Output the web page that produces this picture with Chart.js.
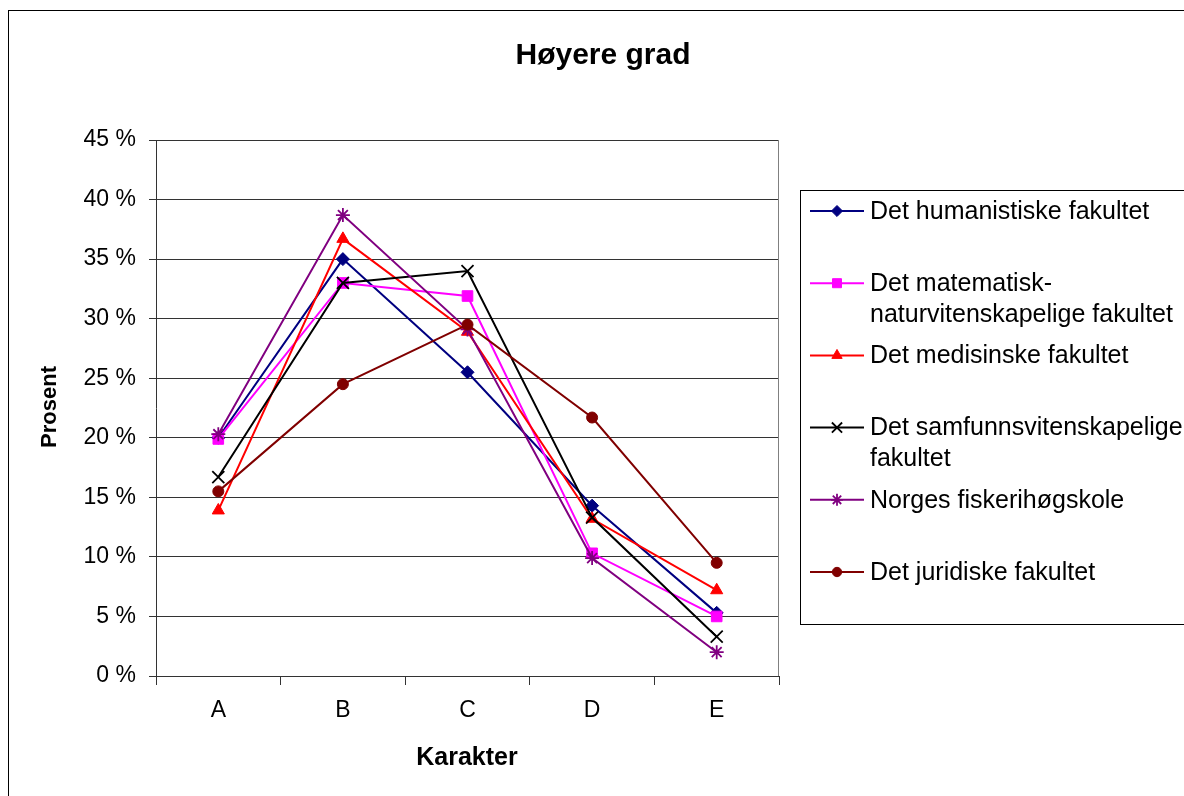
<!DOCTYPE html>
<html>
<head>
<meta charset="utf-8">
<script src="https://cdn.jsdelivr.net/npm/chart.js@4/dist/chart.umd.min.js"></script>
<style>
  html, body { margin: 0; padding: 0; background: #fff; }
  #wrap { width: 1184px; height: 796px; position: relative; }
</style>
</head>
<body>
<div id="wrap"><canvas id="c" width="1184" height="796"></canvas></div>
<script>
const chartTitle = 'Høyere grad';
const xTitle = 'Karakter';
const yTitle = 'Prosent';
const categories = ['A', 'B', 'C', 'D', 'E'];
const yTicks = [0, 5, 10, 15, 20, 25, 30, 35, 40, 45];

const seriesNames = [
  'Det humanistiske fakultet',
  'Det matematisk-naturvitenskapelige fakultet',
  'Det medisinske fakultet',
  'Det samfunnsvitenskapelige fakultet',
  'Norges fiskerihøgskole',
  'Det juridiske fakultet'
];
const legendLines = [
  ['Det humanistiske fakultet'],
  ['Det matematisk-', 'naturvitenskapelige fakultet'],
  ['Det medisinske fakultet'],
  ['Det samfunnsvitenskapelige', 'fakultet'],
  ['Norges fiskerihøgskole'],
  ['Det juridiske fakultet']
];

const humanistiske = [20.0, 35.0, 25.5, 14.3, 5.3];
const matematisk   = [19.9, 33.0, 31.9, 10.3, 5.0];
const medisinske   = [13.9, 36.7, 28.9, 13.2, 7.2];
const samfunn      = [16.7, 33.0, 34.0, 13.3, 3.3];
const fiskeri      = [20.3, 38.7, 29.1, 9.9, 2.0];
const juridiske    = [15.5, 24.5, 29.5, 21.7, 9.5];

const seriesValues = [humanistiske, matematisk, medisinske, samfunn, fiskeri, juridiske];
const colors = ['#000080', '#FF00FF', '#FF0000', '#000000', '#800080', '#800000'];
const pointStyles = ['rectRot', 'rect', 'triangle', 'crossRot', 'star', 'circle'];
const pointRadii = [6.5, 7.5, 7, 8.5, 7, 5.5];

const FONT = '"Liberation Sans", Arial, Helvetica, sans-serif';

const datasets = seriesValues.map((vals, i) => ({
  label: seriesNames[i],
  data: vals,
  borderColor: colors[i],
  backgroundColor: colors[i],
  pointBackgroundColor: colors[i],
  pointBorderColor: colors[i],
  pointStyle: pointStyles[i],
  pointRadius: pointRadii[i],
  pointHoverRadius: pointRadii[i],
  pointBorderWidth: (pointStyles[i] === 'crossRot' || pointStyles[i] === 'star') ? 1.8 : 1,
  borderWidth: 2,
  tension: 0,
  fill: false,
  order: seriesValues.length - i
}));

const decorPlugin = {
  id: 'decor',
  beforeDraw(chart) {
    const ctx = chart.ctx;
    ctx.save();
    ctx.fillStyle = '#fff';
    ctx.fillRect(0, 0, chart.width, chart.height);
    ctx.restore();
  },
  afterDraw(chart) {
    const ctx = chart.ctx;
    const a = chart.chartArea;
    ctx.save();
    // outer chart border
    ctx.strokeStyle = '#000';
    ctx.lineWidth = 1;
    ctx.strokeRect(8.5, 10.5, 1200, 800);
    // plot right border
    ctx.strokeStyle = '#808080';
    ctx.beginPath();
    ctx.moveTo(Math.round(a.right) - 0.5, a.top);
    ctx.lineTo(Math.round(a.right) - 0.5, a.bottom);
    ctx.stroke();

    // titles
    ctx.fillStyle = '#000';
    ctx.textAlign = 'center';
    ctx.textBaseline = 'middle';
    ctx.font = 'bold 30px ' + FONT;
    ctx.fillText(chartTitle, 603, 56);
    ctx.font = 'bold 25px ' + FONT;
    ctx.fillText(xTitle, 467, 758);
    ctx.save();
    ctx.translate(50, 407);
    ctx.rotate(-Math.PI / 2);
    ctx.font = 'bold 22px ' + FONT;
    ctx.fillText(yTitle, 0, 0);
    ctx.restore();

    // legend box
    ctx.strokeStyle = '#000';
    ctx.lineWidth = 1;
    ctx.strokeRect(800.5, 190.5, 420, 434);
    ctx.font = '25px ' + FONT;
    ctx.textAlign = 'left';
    ctx.textBaseline = 'middle';
    chart.data.datasets.forEach((ds, i) => {
      const y = 211 + i * 72.2;
      ctx.strokeStyle = ds.borderColor;
      ctx.lineWidth = 2;
      ctx.beginPath();
      ctx.moveTo(810, y);
      ctx.lineTo(864, y);
      ctx.stroke();
      if (Chart.helpers && Chart.helpers.drawPoint) {
        ctx.lineWidth = ds.pointBorderWidth;
        ctx.fillStyle = ds.pointBackgroundColor;
        ctx.strokeStyle = ds.pointBorderColor;
        Chart.helpers.drawPoint(ctx, {
          pointStyle: ds.pointStyle,
          radius: ds.pointRadius * 0.85,
          rotation: 0,
          borderWidth: ds.pointBorderWidth
        }, 837, y);
      }
      ctx.fillStyle = '#000';
      legendLines[i].forEach((line, k) => {
        ctx.fillText(line, 870, y + 1 + k * 31);
      });
    });
    ctx.restore();
  }
};

new Chart(document.getElementById('c'), {
  type: 'line',
  data: { labels: categories, datasets },
  options: {
    responsive: false,
    animation: false,
    events: [],
    layout: { padding: { left: 0, top: 140, right: 405, bottom: 0 } },
    plugins: {
      legend: { display: false },
      title: { display: false },
      tooltip: { enabled: false }
    },
    scales: {
      x: {
        type: 'category',
        offset: true,
        afterFit(scale) { scale.height = 120; },
        grid: {
          display: true,
          offset: true,
          drawOnChartArea: false,
          drawTicks: true,
          tickLength: 9,
          color: '#333333',
          lineWidth: 1
        },
        border: { display: true, color: '#333333', width: 1 },
        ticks: {
          color: '#000',
          padding: 12,
          font: { family: FONT, size: 23 },
          maxRotation: 0
        }
      },
      y: {
        min: 0,
        max: 45,
        afterFit(scale) { scale.width = 156; },
        afterBuildTicks(scale) { scale.ticks = yTicks.map(v => ({ value: v })); },
        grid: {
          color: '#333333',
          lineWidth: 1,
          drawTicks: true,
          tickLength: 7
        },
        border: { display: true, color: '#333333', width: 1 },
        ticks: {
          color: '#000',
          padding: 13,
          font: { family: FONT, size: 23 },
          callback: (v) => v + ' %'
        }
      }
    }
  },
  plugins: [decorPlugin]
});
</script>
</body>
</html>
